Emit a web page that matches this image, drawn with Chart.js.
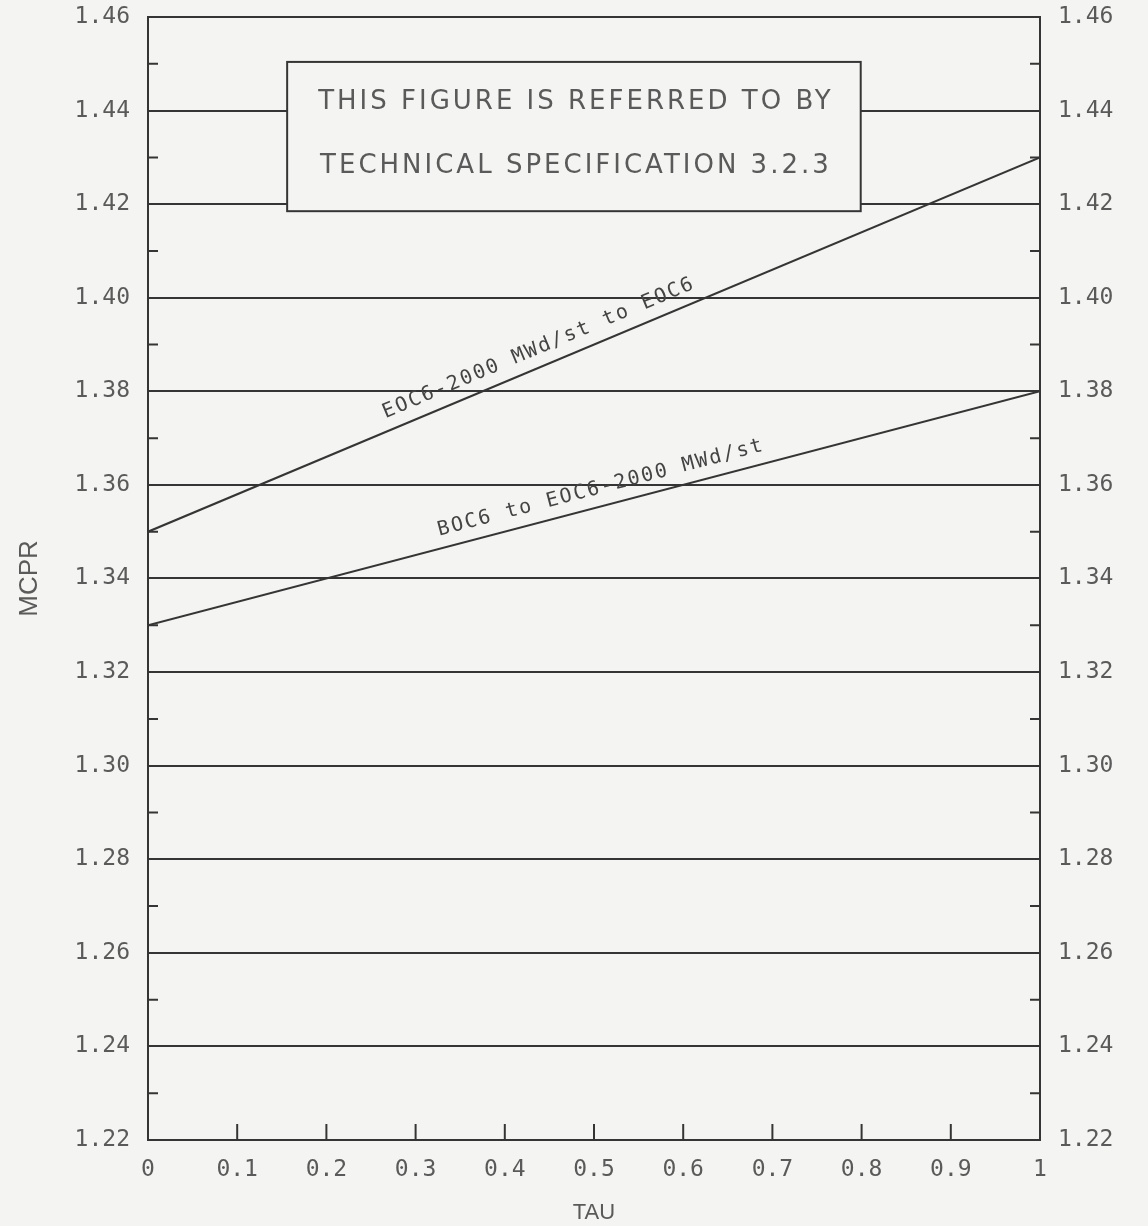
<!DOCTYPE html>
<html>
<head>
<meta charset="utf-8">
<script src="https://cdn.jsdelivr.net/npm/chart.js@4.4.1/dist/chart.umd.min.js"></script>
<style>
  html, body { margin: 0; padding: 0; background: #f4f4f2; }
  #wrap { width: 1148px; height: 1226px; position: relative; }
</style>
</head>
<body>
<div id="wrap"><canvas id="c"></canvas></div>
<script>
// MCPR vs TAU (Tech Spec 3.2.3)
const tau = [0, 1];
const mcprEoc = [1.35, 1.43];   // EOC6-2000 MWd/st to EOC6
const mcprBoc = [1.33, 1.38];   // BOC6 to EOC6-2000 MWd/st
const yTicks = [1.22, 1.24, 1.26, 1.28, 1.30, 1.32, 1.34, 1.36, 1.38, 1.40, 1.42, 1.44, 1.46];
const yMinor = [1.23, 1.25, 1.27, 1.29, 1.31, 1.33, 1.35, 1.37, 1.39, 1.41, 1.43, 1.45];
const xTicks = [0, 0.1, 0.2, 0.3, 0.4, 0.5, 0.6, 0.7, 0.8, 0.9, 1];
const xTickLabels = ["0", "0.1", "0.2", "0.3", "0.4", "0.5", "0.6", "0.7", "0.8", "0.9", "1"];
const lineLabels = ["EOC6-2000 MWd/st to EOC6", "BOC6 to EOC6-2000 MWd/st"];
const noteLines = ["THIS FIGURE IS REFERRED TO BY", "TECHNICAL SPECIFICATION 3.2.3"];
const noteBox = { x0: 0.156, x1: 0.799, y0: 1.4185, y1: 1.4504 };
const labelAt = [0.446, 0.513];  // tau where each line label sits

const INK = "#353535", TXT = "#5a5a5a";
const mono = "'DejaVu Sans Mono', monospace";

const extras = {
  id: "extras",
  beforeDatasetsDraw(ch) {
    const { ctx, scales: { x, y }, chartArea: a } = ch;
    ctx.save();
    ctx.strokeStyle = INK; ctx.lineWidth = 2;
    // minor y ticks, both sides, inward
    yMinor.forEach((v) => {
      const py = y.getPixelForValue(v);
      ctx.beginPath(); ctx.moveTo(a.left, py); ctx.lineTo(a.left + 10, py);
      ctx.moveTo(a.right, py); ctx.lineTo(a.right - 10, py); ctx.stroke();
    });
    // x ticks pointing up from bottom
    xTicks.slice(1, -1).forEach((v) => {
      const px = x.getPixelForValue(v);
      ctx.beginPath(); ctx.moveTo(px, a.bottom); ctx.lineTo(px, a.bottom - 16); ctx.stroke();
    });
    // note box
    const bx0 = x.getPixelForValue(noteBox.x0), bx1 = x.getPixelForValue(noteBox.x1);
    const by0 = y.getPixelForValue(noteBox.y1), by1 = y.getPixelForValue(noteBox.y0);
    ctx.fillStyle = "#f4f4f2";
    ctx.fillRect(bx0, by0, bx1 - bx0, by1 - by0);
    ctx.strokeRect(bx0, by0, bx1 - bx0, by1 - by0);
    ctx.fillStyle = TXT; ctx.font = "26px 'DejaVu Sans'";
    ctx.letterSpacing = "3px";
    ctx.textAlign = "center"; ctx.textBaseline = "middle";
    const cx = (bx0 + bx1) / 2, h = by1 - by0;
    ctx.fillText(noteLines[0], cx + 2, by0 + h * 0.27);
    ctx.fillText(noteLines[1], cx + 2, by0 + h * 0.70);
    ctx.restore();
  },
  afterDatasetsDraw(ch) {
    const { ctx, scales: { x, y } } = ch;
    ctx.save();
    ctx.fillStyle = "#444"; ctx.font = "20px " + mono;
    ctx.letterSpacing = "2px";
    ctx.textAlign = "center"; ctx.textBaseline = "bottom";
    [mcprEoc, mcprBoc].forEach((s, i) => {
      const x0 = x.getPixelForValue(tau[0]), y0 = y.getPixelForValue(s[0]);
      const x1 = x.getPixelForValue(tau[1]), y1 = y.getPixelForValue(s[1]);
      const ang = Math.atan2(y1 - y0, x1 - x0);
      const t = labelAt[i];
      const px = x.getPixelForValue(t), py = y.getPixelForValue(s[0] + (s[1] - s[0]) * t);
      ctx.save(); ctx.translate(px, py); ctx.rotate(ang);
      ctx.fillText(lineLabels[i], 0, -8);
      ctx.restore();
    });
    ctx.restore();
  }
};

const noPad = (s) => { s.paddingTop = 0; s.paddingBottom = 0; s.paddingLeft = 0; s.paddingRight = 0; };

new Chart(document.getElementById("c"), {
  type: "line",
  data: {
    datasets: [
      { data: tau.map((t, i) => ({ x: t, y: mcprEoc[i] })), borderColor: INK, borderWidth: 2, pointRadius: 0 },
      { data: tau.map((t, i) => ({ x: t, y: mcprBoc[i] })), borderColor: INK, borderWidth: 2, pointRadius: 0 }
    ]
  },
  options: {
    responsive: true, maintainAspectRatio: false, animation: false,
    layout: { padding: { top: 17, left: 0, right: 0, bottom: 0 } },
    plugins: { legend: { display: false }, tooltip: { enabled: false } },
    scales: {
      x: {
        type: "linear", min: 0, max: 1,
        afterBuildTicks: (s) => { s.ticks = xTicks.map((v) => ({ value: v })); },
        afterFit: (s) => { s.height = 86; noPad(s); },
        grid: { display: false },
        border: { color: INK, width: 2 },
        ticks: { color: TXT, padding: 8, maxRotation: 0, autoSkip: false, font: { family: mono, size: 23 },
          callback: (v) => xTickLabels[xTicks.indexOf(+v.toFixed(1))] },
        title: { display: true, text: "TAU", color: TXT, font: { family: "'Liberation Sans'", size: 22 }, padding: { top: 0, bottom: 0 } }
      },
      y: {
        position: "left", min: 1.22, max: 1.46,
        afterBuildTicks: (s) => { s.ticks = yTicks.map((v) => ({ value: v })); },
        afterFit: (s) => { s.width = 148; noPad(s); },
        grid: { color: INK, lineWidth: 2, drawTicks: false },
        border: { color: INK, width: 2 },
        ticks: { color: TXT, padding: 18, autoSkip: false, font: { family: mono, size: 23 }, callback: (v) => (+v).toFixed(2) },
        title: { display: true, text: "MCPR", color: TXT, font: { family: "'Liberation Sans'", size: 26 }, padding: { top: 14, bottom: 14 } }
      },
      y2: {
        position: "right", min: 1.22, max: 1.46,
        afterBuildTicks: (s) => { s.ticks = yTicks.map((v) => ({ value: v })); },
        afterFit: (s) => { s.width = 108; noPad(s); },
        grid: { display: false, drawTicks: false },
        border: { color: INK, width: 2 },
        ticks: { color: TXT, padding: 18, autoSkip: false, font: { family: mono, size: 23 }, callback: (v) => (+v).toFixed(2) }
      }
    }
  },
  plugins: [extras]
});
</script>
</body>
</html>
